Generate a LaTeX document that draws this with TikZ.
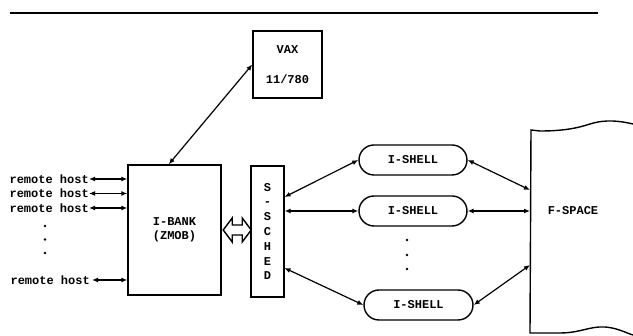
\documentclass[tikz,border=0pt]{standalone}
\usepackage{fontspec}
\setmainfont{Liberation Mono}
\usetikzlibrary{arrows.meta,shapes.misc}
\begin{document}
\begin{tikzpicture}[x=1pt,y=-1pt,
  txt/.style={font=\fontsize{12}{14}\selectfont\bfseries, inner sep=0pt},
  box/.style={draw, line width=1.4pt, inner sep=0pt, font=\fontsize{12}{14}\selectfont\bfseries, align=center},
  shell/.style={draw, line width=1.4pt, rounded rectangle, inner sep=0pt, minimum height=30pt, font=\fontsize{12}{14}\selectfont\bfseries},
  conn/.style={line width=1.2pt, {Latex[length=6pt,width=5pt]}-{Latex[length=6pt,width=5pt]}},
  dotmark/.style={fill, circle, inner sep=0pt, minimum size=2.6pt},
  outline/.style={line width=1.4pt}
]
\useasboundingbox (0,0) rectangle (633,336);

% top rule
\draw[line width=1.3pt] (10,13) -- (598,13);

% VAX
\node[box, minimum width=69pt, minimum height=67pt,
      font=\fontsize{12}{30}\selectfont\bfseries] (vax) at (287.5,64.5) {VAX\\11/780};

% I-BANK
\node[box, minimum width=93pt, minimum height=130pt] (ibank) at (174.5,230) {I-BANK\\(ZMOB)};

% S-SCHED
\node[box, minimum width=33pt, minimum height=131pt,
      font=\fontsize{12}{14.8}\selectfont\bfseries] (ssched) at (267.5,231.5) {S\\-\\S\\C\\H\\E\\D};

% I-SHELLs
\node[shell, minimum width=108pt] (sh1) at (413,160) {I-SHELL};
\node[shell, minimum width=108pt] (sh2) at (413,211) {I-SHELL};
\node[shell, minimum width=109pt] (sh3) at (418.5,305) {I-SHELL};

% F-SPACE region
\draw[outline] (633,124) .. controls (620,121) and (606,119) .. (590,124)
  .. controls (575,129) and (560,131) .. (540,131) -- (531,130) -- (530,333)
  -- (560,333) .. controls (580,333) and (590,326) .. (605,327)
  .. controls (618,328) and (626,333) .. (633,335);
\node[txt] (fspace) at (573,211) {F-SPACE};
\coordinate (fa) at (530,190);
\coordinate (fb) at (530,211);
\coordinate (fc) at (530,265);

% remote hosts
\node[txt, anchor=east] (rh1) at (89,179) {remote host};
\node[txt, anchor=east] (rh2) at (89,193.5) {remote host};
\node[txt, anchor=east] (rh3) at (89,208) {remote host};
\node[txt, anchor=east] (rh4) at (90,280) {remote host};
\node[dotmark] (d1) at (45,226) {};
\node[dotmark] (d2) at (45,239.5) {};
\node[dotmark] (d3) at (45,253) {};

\draw[conn] (rh1.east) -- (rh1.east -| ibank.west);
\draw[conn] (rh2.east) -- (rh2.east -| ibank.west);
\draw[conn] (rh3.east) -- (rh3.east -| ibank.west);
\draw[conn] ([xshift=2pt]rh4.east) -- (rh4.east -| ibank.west);

% I-BANK <-> VAX
\draw[conn] (ibank.95) -- (vax.west);

% I-BANK <=> S-SCHED : hollow double arrow
\coordinate (da) at (ibank.east);
\draw[line width=1.4pt, line join=miter]
  ([xshift=1.5pt]da) -- ++(9,-12) -- ++(0,7) -- ++(10,0) -- ++(0,-7) -- ++(9,12)
  -- ++(-9,12) -- ++(0,-7) -- ++(-10,0) -- ++(0,7) -- cycle;

% S-SCHED to shells
\coordinate (sa) at (284.5,197);
\coordinate (sc) at (284.5,268);
\draw[conn] (sa) -- (sh1.west);
\draw[conn] (sh2.west -| ssched.east) -- (sh2.west);
\draw[conn] (sc) -- (sh3.west);

% dots between shells
\node[dotmark] (e1) at (407,240) {};
\node[dotmark] (e2) at (407,255) {};
\node[dotmark] (e3) at (407,269) {};

% shells to F-SPACE
\draw[conn] (sh1.east) -- (fa);
\draw[conn] (sh2.east) -- (fb);
\draw[conn] (sh3.east) -- (fc);
\end{tikzpicture}
\end{document}
